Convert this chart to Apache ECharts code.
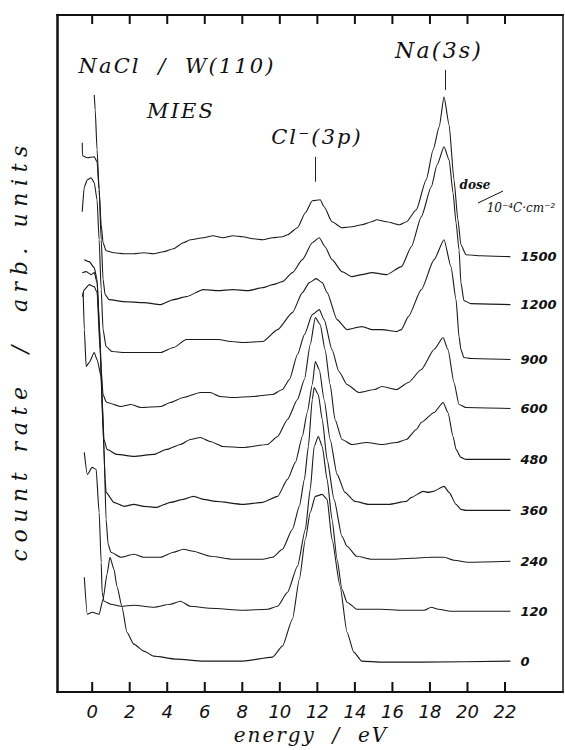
<!DOCTYPE html>
<html>
<head>
<meta charset="utf-8">
<script src="https://cdn.jsdelivr.net/npm/echarts@6/dist/echarts.min.js"></script>
<style>
  html, body { margin: 0; padding: 0; background: #fff; }
  #chart { width: 565px; height: 750px; }
</style>
</head>
<body>
<div id="chart"></div>
<script>
// energy axis ticks (eV)
const energyTicks = [0, 2, 4, 6, 8, 10, 12, 14, 16, 18, 20, 22];
const doses = ['1500', '1200', '900', '600', '480', '360', '240', '120', '0'];

// [energy / eV, count rate (arb. units, stacked offset included)]
const curve1500 = [[0.11,598],[0.16,583],[0.26,543],[0.37,503],[0.48,468],[0.58,450],[0.74,442],[1.16,440],[1.69,439],[2.22,439],[2.75,440],[3.28,439],[3.80,441],[4.33,444],[4.86,450],[5.23,453],[5.92,455],[6.44,457],[6.97,455],[7.50,457],[8.03,456],[8.56,454],[9.09,453],[9.61,455],[10.14,456],[10.41,458],[10.94,465],[11.36,480],[11.73,492],[12.15,493],[12.36,486],[12.78,471],[13.31,465],[13.84,466],[14.37,468],[14.90,471],[15.16,473],[15.69,471],[16.38,468],[16.75,471],[17.27,483],[17.80,513],[18.17,543],[18.49,566],[18.75,596],[19.02,568],[19.28,513],[19.49,473],[19.65,448],[19.92,438],[20.71,437],[22.29,436]];
const curve1200 = [[-0.53,550],[-0.52,537],[-0.26,535],[0.11,536],[0.26,531],[0.37,503],[0.48,453],[0.58,413],[0.69,398],[0.90,393],[1.69,391],[2.75,390],[3.65,388],[4.33,393],[5.02,396],[5.92,403],[6.71,402],[7.50,403],[8.30,402],[9.09,405],[9.61,408],[10.14,411],[10.67,420],[11.20,433],[11.73,450],[12.10,455],[12.41,446],[12.78,433],[13.31,421],[13.84,416],[14.37,418],[14.90,420],[15.69,418],[16.48,426],[17.01,446],[17.54,476],[18.07,506],[18.38,528],[18.75,546],[19.02,533],[19.23,500],[19.39,470],[19.55,443],[19.65,410],[19.81,392],[20.18,389],[22.29,388]];
const curve900 = [[-0.53,481],[-0.42,506],[-0.26,513],[-0.05,515],[0.11,510],[0.26,493],[0.37,453],[0.48,403],[0.58,363],[0.74,346],[1.06,341],[1.69,340],[2.38,340],[3.65,340],[4.33,345],[5.02,353],[5.76,353],[6.71,353],[7.40,351],[8.03,350],[9.09,351],[9.88,363],[10.67,380],[11.20,400],[11.57,410],[11.94,414],[12.26,410],[12.52,400],[13.05,373],[13.58,363],[14.37,366],[14.90,363],[15.43,363],[16.22,361],[16.48,363],[16.85,376],[17.54,403],[18.22,433],[18.75,453],[19.12,426],[19.39,393],[19.55,356],[19.65,343],[19.81,335],[20.18,334],[22.29,333]];
const curve600 = [[-0.42,433],[-0.16,431],[0.11,425],[0.26,413],[0.37,373],[0.48,323],[0.58,298],[0.74,291],[0.79,290],[1.53,286],[2.06,288],[2.59,285],[3.65,286],[4.17,290],[4.86,295],[5.76,300],[6.29,300],[6.81,296],[7.50,295],[8.56,296],[9.61,298],[10.14,303],[10.51,313],[10.94,338],[11.31,358],[11.73,378],[12.10,383],[12.36,373],[12.78,343],[13.15,321],[13.58,308],[14.21,300],[15.06,303],[15.43,306],[16.22,303],[16.85,310],[17.54,323],[18.22,343],[18.70,355],[18.96,343],[19.28,310],[19.55,288],[19.92,285],[22.29,284]];
const curve480 = [[-0.53,420],[-0.32,421],[-0.05,418],[0.11,420],[0.26,410],[0.42,353],[0.53,293],[0.63,253],[0.79,243],[1.32,238],[2.22,236],[3.28,238],[3.96,243],[4.70,248],[5.23,253],[5.76,255],[6.29,251],[6.97,246],[8.03,245],[9.35,248],[9.88,256],[10.41,273],[10.94,293],[11.31,313],[11.62,348],[11.89,375],[12.15,368],[12.41,343],[12.68,308],[12.94,273],[13.31,253],[13.84,248],[14.63,250],[15.43,248],[16.22,250],[16.75,253],[17.27,263],[17.54,270],[18.22,280],[18.70,290],[18.96,280],[19.23,256],[19.39,243],[19.65,235],[19.92,233],[22.29,233]];
const curve360 = [[-0.53,396],[-0.42,403],[-0.16,408],[0.11,406],[0.26,400],[0.42,343],[0.58,263],[0.69,213],[0.74,200],[1.16,190],[1.69,186],[2.22,188],[2.75,186],[3.43,185],[4.17,190],[4.86,193],[5.39,196],[5.92,193],[6.60,191],[8.03,188],[9.09,190],[9.88,196],[10.41,213],[10.83,230],[11.20,256],[11.46,280],[11.73,308],[11.89,331],[12.10,323],[12.36,293],[12.68,253],[13.05,218],[13.47,200],[14.00,191],[14.74,188],[15.79,188],[16.75,191],[17.01,195],[17.64,201],[17.91,200],[18.17,201],[18.75,206],[19.02,200],[19.39,188],[19.65,183],[19.92,182],[22.29,182]];
const curve240 = [[-0.48,400],[-0.42,363],[-0.32,326],[-0.16,330],[0.11,340],[0.26,333],[0.48,316],[0.63,243],[0.74,173],[0.85,148],[1.00,140],[1.53,135],[2.22,138],[2.75,135],[3.65,135],[4.33,140],[4.86,143],[5.39,141],[6.29,136],[7.50,133],[9.09,133],[9.61,135],[10.14,143],[10.67,163],[11.04,186],[11.31,213],[11.52,246],[11.73,293],[11.83,305],[12.05,298],[12.26,273],[12.52,233],[12.89,193],[13.31,156],[13.58,146],[14.10,136],[14.90,133],[15.95,133],[17.01,134],[18.07,135],[18.75,135],[19.28,132],[20.02,130],[22.29,131]];
const curve120 = [[-0.42,240],[-0.26,218],[0.00,225],[0.21,223],[0.37,180],[0.48,130],[0.53,100],[0.63,91],[1.00,88],[1.53,86],[2.22,87],[3.28,85],[4.17,88],[4.70,91],[5.23,86],[6.29,84],[8.03,82],[9.35,83],[9.88,86],[10.41,100],[10.94,126],[11.36,163],[11.62,203],[11.83,246],[12.05,256],[12.26,246],[12.52,213],[12.78,173],[13.05,133],[13.31,103],[13.58,90],[14.10,83],[15.43,83],[16.48,82],[17.70,82],[18.07,85],[18.44,83],[19.12,81],[22.29,81]];
const curve0 = [[-0.42,115],[-0.26,78],[0.00,80],[0.37,78],[0.58,93],[0.79,118],[0.95,135],[1.16,123],[1.32,106],[1.58,86],[1.85,60],[2.22,48],[2.75,41],[3.28,36],[4.49,33],[5.92,31],[8.03,31],[9.61,35],[10.14,46],[10.67,73],[11.04,113],[11.36,153],[11.62,180],[11.89,196],[12.26,198],[12.52,193],[12.78,153],[13.21,106],[13.58,60],[13.94,40],[14.37,31],[15.43,30],[17.54,30],[22.29,31]];

const curves = [curve1500, curve1200, curve900, curve600, curve480, curve360, curve240, curve120, curve0];

// peak markers: [energy, lower, upper]
const clMarker = [11.89, 511, 536];
const naMarker = [18.81, 603, 623];

const yMin = 0;
const yMax = 678;

const serif = '"DejaVu Serif", "Liberation Serif", serif';
const sans = '"DejaVu Sans", "Liberation Sans", sans-serif';

// widen letter spacing (no letterSpacing in echarts text)
function spread(s, sep) {
  return s.split('').join(sep || '\u200A');
}

const chart = echarts.init(document.getElementById('chart'), null, {renderer: 'svg'});

const series = doses.map((d, i) => ({
  type: 'line',
  name: d,
  data: curves[i],
  showSymbol: false,
  smooth: 0.2,
  smoothMonotone: 'x',
  animation: false,
  silent: true,
  lineStyle: {color: '#1a1a1a', width: 1.1},
  endLabel: {
    show: true,
    formatter: d,
    distance: 10,
    color: '#111',
    fontFamily: sans,
    fontStyle: 'italic',
    fontWeight: 'bold',
    fontSize: 13
  },
  markLine: i === 0 ? {
    symbol: 'none',
    silent: true,
    animation: false,
    label: {show: false},
    lineStyle: {color: '#222', width: 1, type: 'solid'},
    data: [
      [{coord: [clMarker[0], clMarker[1]]}, {coord: [clMarker[0], clMarker[2]]}],
      [{coord: [naMarker[0], naMarker[1]]}, {coord: [naMarker[0], naMarker[2]]}]
    ]
  } : undefined
}));

// inward tick marks drawn as broken line series ('-' breaks the path)
function tickPath(from, to) {
  const pts = [];
  energyTicks.forEach(t => {
    pts.push([t, from], [t, to], [t, '-']);
  });
  return pts;
}
[tickPath(yMin, yMin + 10), tickPath(yMax, yMax - 9)].forEach((pts, k) => {
  series.push({
    type: 'line',
    name: k === 0 ? 'ticksBottom' : 'ticksTop',
    data: pts,
    showSymbol: false,
    connectNulls: false,
    animation: false,
    silent: true,
    z: 5,
    lineStyle: {color: '#111', width: 2}
  });
});

const frameLine = {show: true, onZero: false, lineStyle: {color: '#111', width: 2}};

function centered(text, x, y, font) {
  return {type: 'text', x: x, y: y, style: {text: text, font: font, fill: '#111', align: 'center', verticalAlign: 'middle', textAlign: 'center', textVerticalAlign: 'middle'}};
}

chart.setOption({
  backgroundColor: '#fff',
  animation: false,
  grid: {left: 53, right: 2, top: 15, bottom: 57},
  xAxis: [{
    type: 'value',
    min: -1.875,
    max: 25.09,
    position: 'bottom',
    axisLine: frameLine,
    axisTick: {show: false},
    axisLabel: {
      customValues: energyTicks,
      margin: 10,
      color: '#111',
      fontFamily: sans,
      fontStyle: 'italic',
      fontSize: 18
    },
    splitLine: {show: false},
    name: spread('energy  /  eV'),
    nameLocation: 'middle',
    nameGap: 28,
    nameTextStyle: {fontFamily: serif, fontStyle: 'italic', fontSize: 20, color: '#111'}
  }, {
    type: 'value',
    min: -1.875,
    max: 25.09,
    position: 'top',
    axisLine: frameLine,
    axisTick: {show: false},
    axisLabel: {show: false},
    splitLine: {show: false}
  }],
  yAxis: [{
    type: 'value',
    min: yMin,
    max: yMax,
    position: 'left',
    axisLine: {show: true, onZero: false, lineStyle: {color: '#111', width: 2.5}},
    axisTick: {show: false},
    axisLabel: {show: false},
    splitLine: {show: false},
    name: spread('count rate  /  arb. units', '\u2009\u200A'),
    nameLocation: 'middle',
    nameGap: 27,
    nameTextStyle: {fontFamily: serif, fontStyle: 'italic', fontSize: 22, color: '#111'}
  }, {
    type: 'value',
    min: yMin,
    max: yMax,
    position: 'right',
    axisLine: {show: true, onZero: false, lineStyle: {color: '#111', width: 1.5}},
    axisTick: {show: false},
    axisLabel: {show: false},
    splitLine: {show: false}
  }],
  graphic: [
    centered(spread('NaCl  /  W(110)'), 176, 66, 'italic 21px ' + serif),
    centered(spread('MIES'), 180, 111, 'italic 21px ' + serif),
    centered(spread('Cl\u207B(3p)'), 316, 137, 'italic 21px ' + serif),
    centered(spread('Na(3s)'), 438, 50, 'italic 22px ' + serif),
    centered('dose', 475, 185, 'italic bold 12px ' + serif),
    {type: 'line', shape: {x1: 478, y1: 203, x2: 503, y2: 191}, style: {stroke: '#111', lineWidth: 1}},
    centered('10\u207B\u2074C\u00B7cm\u207B\u00B2', 521, 208, 'italic 12px ' + serif)
  ],
  series: series
});
</script>
</body>
</html>
